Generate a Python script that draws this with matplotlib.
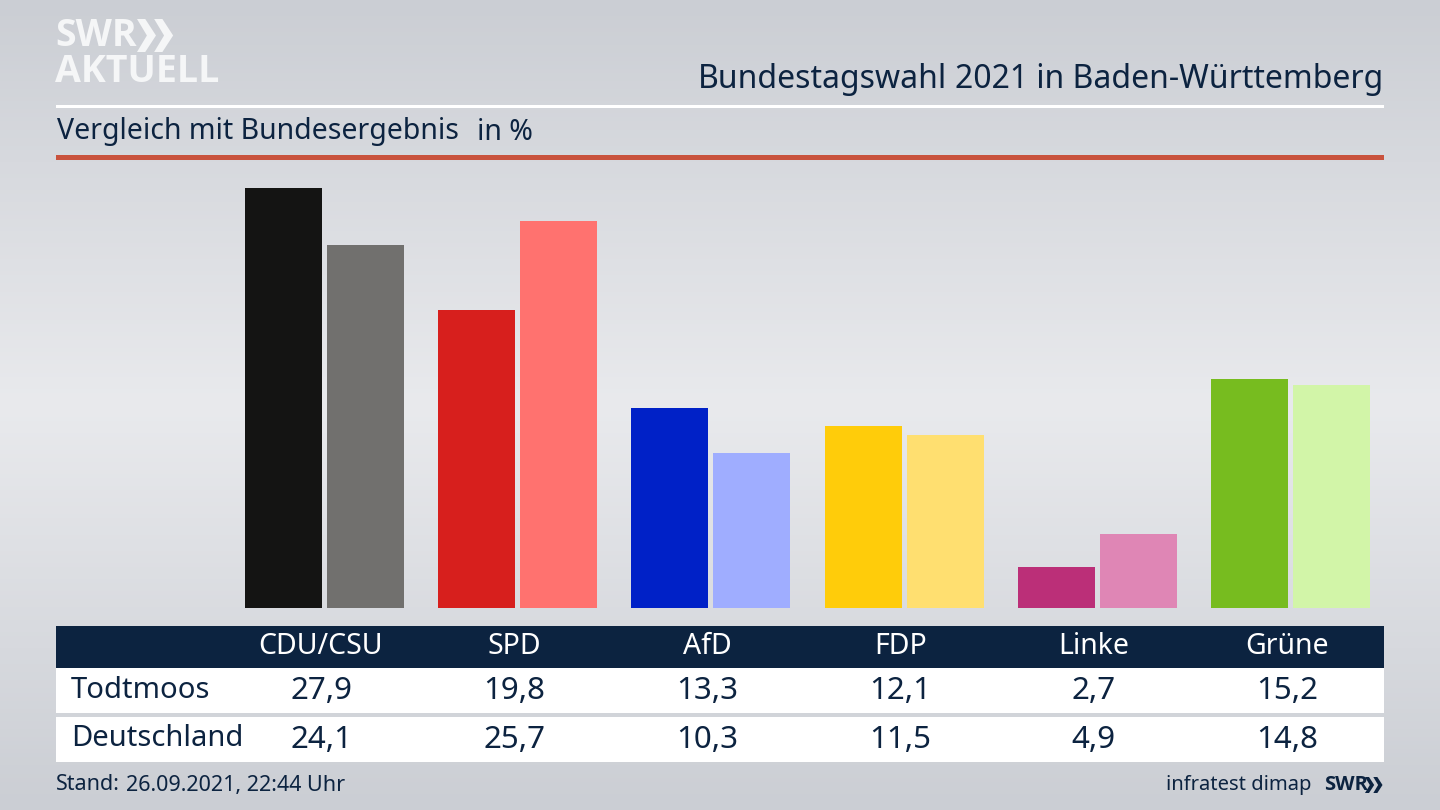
# plot.py
"""
    Bundestagswahl 2021 chart, Todtmoos against the federal result.
"""
import numpy as np
import matplotlib
matplotlib.use("Agg")
import matplotlib.pyplot as plt
from matplotlib.patches import Rectangle, Polygon

parties      = ["CDU/CSU", "SPD", "AfD", "FDP", "Linke", "Grüne"]
todtmoos     = [27.9, 19.8, 13.3, 12.1, 2.7, 15.2]
deutschland  = [24.1, 25.7, 10.3, 11.5, 4.9, 14.8]
colors_local = ["#141413", "#d71f1d", "#0021c7", "#ffcc0a", "#bb2f78", "#77bc1f"]
colors_fed   = ["#71706e", "#ff726f", "#9fadff", "#ffdf70", "#df86b5", "#d2f5a8"]
row_names    = ["Todtmoos", "Deutschland"]

NAVY = "#0c2340"
FONT = "Noto Sans"

plt.rcParams["font.family"] = [FONT, "DejaVu Sans"]

fig = plt.figure(figsize=(14.4, 8.1), dpi=100)

# background gradient, light band in the middle
bg = fig.add_axes([0, 0, 1, 1], zorder=0)
ramp = np.interp(np.linspace(0, 1, 200), [0, 0.5, 1], [0.0, 1.0, 0.0])
bg.imshow(ramp[:, None], aspect="auto", cmap=matplotlib.colors.LinearSegmentedColormap.from_list(
    "bg", ["#cbced4", "#e9eaed"]), vmin=0, vmax=1)
bg.axis("off")

# bars, axes placed so that baseline and scale match the picture
px_per_unit = (608 - 187.5) / 27.9
ax_left, ax_right, ax_top, ax_bottom = 56, 1384, 170, 608
ax = fig.add_axes([ax_left / 1440, 1 - ax_bottom / 810,
                   (ax_right - ax_left) / 1440, (ax_bottom - ax_top) / 810], zorder=1)
ax.patch.set_alpha(0)
step = 193.2
ax.set_xlim((ax_left - 324.5) / step, (ax_right - 324.5) / step)
ax.set_ylim(0, (ax_bottom - ax_top) / px_per_unit)
ax.axis("off")
x = np.arange(len(parties))
bar_w = 77 / step
off = 41 / step
ax.bar(x - off, todtmoos, bar_w, color=colors_local)
ax.bar(x + off, deutschland, bar_w, color=colors_fed)

# everything else in picture pixels
ov = fig.add_axes([0, 0, 1, 1], zorder=2)
ov.set_xlim(0, 1440)
ov.set_ylim(810, 0)
ov.axis("off")
ov.patch.set_alpha(0)


def chevrons(x0, y0, h, color):
    w = h * 0.5
    for dx in (0, h * 0.52):
        ov.add_patch(Polygon([(x0 + dx, y0), (x0 + dx + w * 0.5, y0), (x0 + dx + w * 1.15, y0 + h / 2),
                              (x0 + dx + w * 0.5, y0 + h), (x0 + dx, y0 + h),
                              (x0 + dx + w * 0.6, y0 + h / 2)], closed=True, fc=color, ec="none"))


# logo
ov.text(55, 36, "SWR", fontsize=27, fontweight="bold", color="#f5f6f7", va="center", ha="left", family="Open Sans")
chevrons(137, 19, 33, "#f5f6f7")
ov.text(55, 72, "AKTUELL", fontsize=27, fontweight="bold", color="#f5f6f7", va="center", ha="left", family="Open Sans")

# header
title = ov.text(1383, 79, "2021 in Baden-Württemberg", fontsize=23, color=NAVY, ha="right", va="center")
fig.canvas.draw()
bb = title.get_window_extent()
ov.text(bb.x0 - 8, 79, "Bundestagswahl", fontsize=23, fontweight="bold", color=NAVY, ha="right", va="center")
ov.add_patch(Rectangle((56, 105), 1328, 2.5, fc="white", ec="none"))
ov.text(57, 132, "Vergleich mit Bundesergebnis", fontsize=20.5, color=NAVY, ha="left", va="center")
ov.text(477, 132, "in %", fontsize=20.5, color=NAVY, ha="left", va="center")
ov.add_patch(Rectangle((56, 155), 1328, 5, fc="#c9523d", ec="none"))

# table
ov.add_patch(Rectangle((56, 626), 1328, 42, fc=NAVY, ec="none"))
ov.add_patch(Rectangle((56, 668), 1328, 45, fc="white", ec="none"))
ov.add_patch(Rectangle((56, 717), 1328, 45, fc="white", ec="none"))
ov.text(71, 690, row_names[0], fontsize=21, color=NAVY, va="center", ha="left")
ov.text(71, 739, row_names[1], fontsize=21, color=NAVY, va="center", ha="left")
for i, party in enumerate(parties):
    cx = 321 + step * i
    ov.text(cx, 646, party, fontsize=20.5, color="white", ha="center", va="center")
    ov.text(cx, 691, f"{todtmoos[i]:.1f}".replace(".", ","), fontsize=22.5, color=NAVY, ha="center", va="center")
    ov.text(cx, 740, f"{deutschland[i]:.1f}".replace(".", ","), fontsize=22.5, color=NAVY, ha="center", va="center")

# footer
stand = ov.text(56, 785, "Stand:", fontsize=15.5, fontweight="bold", color=NAVY, ha="left", va="center")
ov.text(126, 785, "26.09.2021, 22:44 Uhr", fontsize=15.5, color=NAVY, ha="left", va="center")
ov.text(1312, 785, "infratest dimap", fontsize=14.5, color=NAVY, ha="right", va="center")
ov.text(1324, 785, "SWR", fontsize=14.5, fontweight="bold", color=NAVY, ha="left", va="center", family="Open Sans")
chevrons(1365, 777, 16, NAVY)

fig.savefig("out.png", dpi=100)
